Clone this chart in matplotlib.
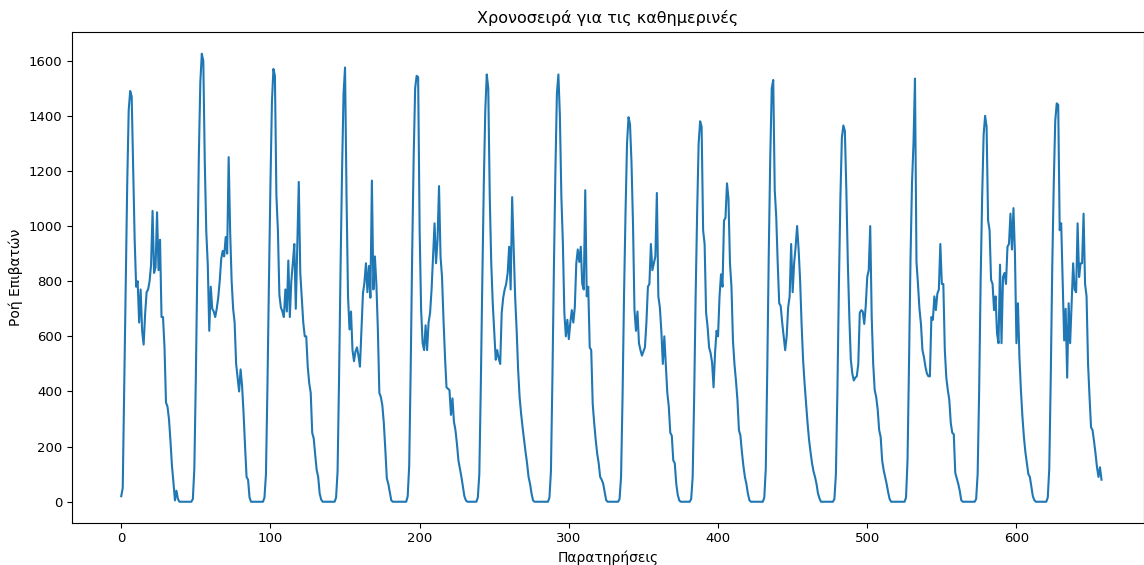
import numpy as np
import matplotlib
matplotlib.use("Agg")
import matplotlib.pyplot as plt

day1 = [20, 50, 420, 800, 1150, 1420, 1490, 1470, 1200, 950,
        780, 800, 650, 770, 620, 570, 680, 760, 770, 800,
        860, 1055, 830, 850, 1050, 840, 950, 670, 670, 560,
        360, 345, 300, 220, 130, 70, 5, 40, 10, 0,
        0, 0, 0, 0, 0, 0, 0, 0]
day2 = [10, 120, 450, 850, 1250, 1520, 1625, 1600, 1230, 980,
        860, 620, 780, 700, 690, 670, 700, 740, 800, 880,
        910, 890, 960, 900, 1250, 980, 800, 700, 650, 500,
        450, 400, 480, 420, 320, 200, 90, 80, 15, 0,
        0, 0, 0, 0, 0, 0, 0, 0]
day3 = [15, 100, 420, 800, 1150, 1450, 1570, 1545, 1110, 985,
        750, 705, 690, 670, 770, 690, 875, 670, 800, 865,
        935, 700, 935, 1160, 830, 740, 650, 600, 600, 490,
        430, 395, 250, 230, 170, 115, 90, 30, 8, 0,
        0, 0, 0, 0, 0, 0, 0, 0]
day4 = [15, 110, 450, 850, 1200, 1480, 1575, 1110, 745, 625,
        690, 550, 510, 545, 560, 530, 490, 625, 755, 795,
        865, 760, 855, 740, 1165, 770, 890, 790, 625, 395,
        380, 350, 285, 190, 85, 65, 35, 5,
        0, 0, 0, 0, 0, 0, 0, 0, 0, 0]
day5 = [20, 130, 480, 900, 1250, 1500, 1545, 1540, 985, 695,
        575, 550, 640, 550, 650, 685, 770, 890, 1010, 865,
        950, 1145, 890, 815, 660, 525, 415, 410, 405, 315,
        375, 290, 260, 210, 150, 120, 90, 55, 20, 5,
        0, 0, 0, 0, 0, 0, 0]
day6 = [15, 100, 420, 800, 1150, 1420, 1550, 1500, 1105, 865,
        720, 620, 515, 550, 520, 500, 685, 740, 770, 790,
        830, 925, 770, 1105, 925, 745, 625, 480, 380, 320,
        270, 225, 180, 140, 90, 65, 30, 5,
        0, 0, 0, 0, 0, 0, 0, 0, 0, 0]
day7 = [15, 110, 450, 850, 1200, 1480, 1550, 1400, 1105, 940,
        685, 600, 660, 590, 650, 695, 650, 705, 865, 915,
        870, 925, 790, 770, 1130, 745, 780, 560, 550, 355,
        285, 225, 175, 140, 90, 80, 66, 35, 6,
        0, 0, 0, 0, 0, 0, 0, 0]
day8 = [10, 90, 380, 750, 1050, 1300, 1395, 1370, 1230, 1010,
        695, 620, 690, 575, 550, 530, 545, 560, 650, 780,
        790, 935, 840, 865, 890, 1120, 745, 705, 620, 500,
        600, 500, 395, 345, 250, 240, 150, 140, 65, 25,
        5, 0, 0, 0, 0, 0, 0, 0]
day9 = [10, 90, 380, 750, 1050, 1300, 1380, 1360, 985, 935,
        685, 635, 560, 540, 505, 415, 540, 620, 600, 745,
        825, 780, 1020, 1030, 1155, 1100, 865, 780, 585, 500,
        440, 370, 260, 240, 180, 130, 90, 65, 30, 6,
        0, 0, 0, 0, 0, 0, 0, 0, 0]
day10 = [15, 120, 480, 900, 1250, 1500, 1530, 1130, 1035, 865,
         720, 710, 650, 600, 550, 600, 705, 745, 935, 760,
         865, 925, 1000, 915, 805, 645, 515, 430, 355, 285,
         225, 180, 140, 110, 90, 65, 30, 12,
         0, 0, 0, 0, 0, 0, 0, 0, 0]
day11 = [10, 100, 400, 780, 1100, 1320, 1365, 1345, 1130, 865,
         670, 515, 465, 440, 450, 455, 500, 685, 695, 690,
         645, 710, 815, 840, 1000, 670, 500, 405, 380, 335,
         260, 235, 150, 115, 90, 65, 35, 10,
         0, 0, 0, 0, 0, 0, 0, 0, 0, 0]
day12 = [15, 150, 500, 880, 1155, 1300, 1535, 870, 790, 700,
         645, 550, 525, 490, 465, 455, 455, 670, 660, 745,
         695, 755, 770, 935, 790, 790, 550, 450, 405, 370,
         285, 250, 245, 105, 85, 65, 40, 6,
         0, 0, 0, 0, 0, 0, 0, 0, 0]
day13 = [10, 100, 400, 800, 1100, 1330, 1400, 1360, 1020, 985,
         805, 790, 695, 745, 610, 575, 860, 575, 815, 830,
         790, 925, 935, 1045, 915, 1065, 900, 575, 720, 525,
         405, 310, 235, 180, 140, 100, 90, 55, 20, 6,
         0, 0, 0, 0, 0, 0, 0, 0]
day14 = [15, 120, 450, 850, 1150, 1380, 1445, 1440, 985, 1010,
         790, 585, 700, 450, 720, 575, 720, 865, 770, 760,
         1010, 815, 865, 865, 1045, 790, 745, 500, 380, 270,
         260, 220, 175, 125, 90, 125, 80]

days = [day1, day2, day3, day4, day5, day6, day7,
        day8, day9, day10, day11, day12, day13, day14]
flow = np.concatenate(days)

fig = plt.figure(figsize=(11.44, 5.65), dpi=100)
ax = fig.add_axes([72 / 1144, 42.3 / 565, (1144 - 72) / 1144, 491 / 565])
ax.plot(flow, color="#1f77b4", linewidth=1.5)
ax.set_xlim(-33, 685.5)
ax.set_ylim(-76, 1705)
ax.set_title("Χρονοσειρά για τις καθημερινές", fontsize=11.5)
ax.set_xlabel("Παρατηρήσεις", fontsize=10)
ax.set_ylabel("Ροή Επιβατών", fontsize=10)
ax.tick_params(labelsize=9.5)

fig.savefig("out.png", dpi=100)
